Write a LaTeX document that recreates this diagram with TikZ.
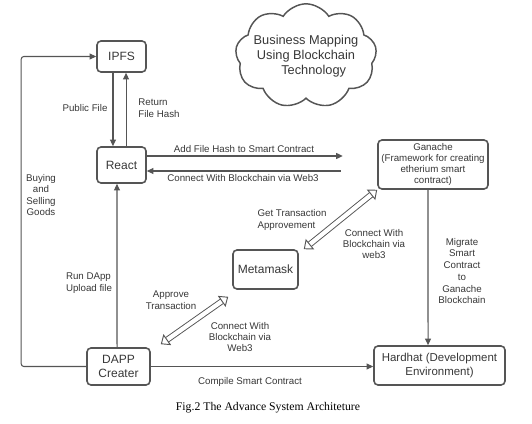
\documentclass[tikz,border=0pt]{standalone}
\usepackage{fontspec}
\setmainfont{Liberation Sans}
\newfontfamily\capfont{Liberation Serif}
\usetikzlibrary{arrows.meta,shapes.symbols,calc}

\definecolor{edgegray}{RGB}{85,85,85}
\definecolor{textgray}{RGB}{55,55,55}

\tikzset{every picture/.style={line width=0.75pt}}
\tikzset{
  box/.style={draw=edgegray, line width=1.2pt, rounded corners=3pt, text=textgray, font=\fontsize{9}{11}\selectfont, align=center, inner sep=0pt},
  lbl/.style={text=textgray, font=\fontsize{7.3}{8.6}\selectfont, align=center, inner sep=0.75pt},
  conn/.style={draw=edgegray, line width=0.8pt, -{Triangle[length=5pt,width=4.5pt]}},
  hollow/.style={draw=edgegray, line width=0.7pt, double, double distance=3.2pt, {Triangle[open,length=6pt,width=10pt]}-{Triangle[open,length=6pt,width=10pt]}}
}

\begin{document}
\begin{tikzpicture}[x=0.75pt,y=0.75pt,yscale=-1,xscale=1]
\useasboundingbox (0,0) rectangle (532,424);

%Shape: Rounded Rect
\draw (121.5,56.5) node [box, minimum width=36.75pt, minimum height=23.25pt] (ipfs) {IPFS};
%Shape: Rounded Rect
\draw (121.5,165) node [box, minimum width=36.75pt, minimum height=27pt] (react) {React};
%Shape: Rounded Rect
\draw (118.5,366.5) node [box, minimum width=47.25pt, minimum height=27.75pt] (dapp) {DAPP\\Creater};
%Shape: Rounded Rect
\draw (265.5,269.5) node [box, minimum width=48.75pt, minimum height=29.25pt] (meta) {Metamask};
%Shape: Rounded Rect
\draw (433,164.5) node [box, minimum width=82.5pt, minimum height=36.75pt, font=\fontsize{7.3}{8.4}\selectfont] (ganache) {Ganache\\(Framework for creating\\etherium smart\\contract)};
%Shape: Rounded Rect
\draw (439.5,365.5) node [box, minimum width=98.25pt, minimum height=29.25pt, font=\fontsize{8.6}{11}\selectfont] (hardhat) {Hardhat (Development\\Environment)};
%Shape: Cloud
\draw (306,56) node [cloud, cloud puffs=9, cloud puff arc=115, draw=edgegray, line width=1.1pt, minimum width=106pt, minimum height=76pt, aspect=1.4, text=textgray, font=\fontsize{9.6}{11.2}\selectfont, align=center, inner sep=-7pt] (cloud) {Business Mapping\\Using Blockchain\\\hspace{1.2em}Technology};

%Straight Lines
\draw [conn] ([xshift=-6.4pt]ipfs.south) -- ([xshift=-6.4pt]react.north) ;
%Straight Lines
\draw [conn] ([xshift=3.4pt]react.north) -- ([xshift=3.4pt]ipfs.south) ;
%Straight Lines
\draw [conn, rounded corners=2pt] (dapp.west) -- ++(-65,0) |- (ipfs.west) ;
%Straight Lines
\draw [conn] ([xshift=-1.1pt]dapp.north) -- ([xshift=-3.4pt]react.south) ;
%Straight Lines
\draw [conn] ([yshift=-6.75pt]react.east) -- ++(196,0) ;
%Straight Lines
\draw [conn] ([yshift=4.5pt]react.east) ++(194,0) -- ([yshift=4.5pt]react.east) ;
%Straight Lines
\draw [conn] ([xshift=-3.75pt]ganache.south) -- ([xshift=-8.6pt]hardhat.north) ;
%Straight Lines
\draw [conn] (dapp.east) -- (dapp.east -| hardhat.west) ;
%Double Arrow
\draw [hollow] ($(meta.north east)+(5,0)$) -- (ganache.south west) ;
%Double Arrow
\draw [hollow] ($(dapp.north east)+(10,-3)$) -- ($(meta.south west)+(-4,7)$) ;

% Text Node
\draw (85,108) node [lbl] (lpub) {Public File};
% Text Node
\draw (159,108) node [lbl, align=left] (lret) {Return\\File Hash};
% Text Node
\draw (41,195) node [lbl] (lbuy) {Buying\\and\\Selling\\Goods};
% Text Node
\draw (89,283) node [lbl, align=left] (lrun) {Run DApp\\Upload file};
% Text Node
\draw (244,149) node [lbl] (ladd) {Add File Hash to Smart Contract};
% Text Node
\draw (243,178) node [lbl] (lweb) {Connect With Blockchain via Web3};
% Text Node
\draw (292,220) node [lbl, align=left] (lget) {Get Transaction\\Approvement};
% Text Node
\draw (374,244) node [lbl] (lcon) {Connect With\\Blockchain via\\web3};
% Text Node
\draw (171,300) node [lbl] (lapp) {Approve\\Transaction};
% Text Node
\draw (240,337) node [lbl] (lcon2) {Connect With\\Blockchain via\\Web3};
% Text Node
\draw (462,271) node [lbl, font=\fontsize{7.3}{8.8}\selectfont] (lmig) {Migrate\\Smart\\Contract\\to\\Ganache\\Blockchain};
% Text Node
\draw (250,382) node [lbl] (lcomp) {Compile Smart Contract};
% Text Node
\draw (268,408) node [inner sep=0pt, font=\capfont\fontsize{8.8}{10}\selectfont] (cap) {Fig.2 The Advance System Architeture};

\end{tikzpicture}
\end{document}
